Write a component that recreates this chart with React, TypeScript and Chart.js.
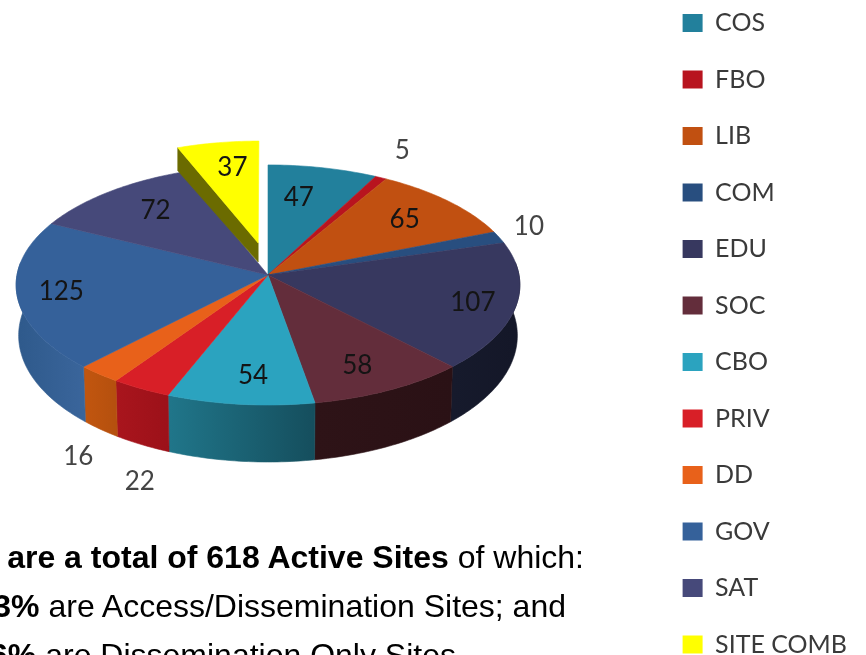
import React, { useEffect, useRef } from "react";
import { Chart, registerables } from "chart.js";

Chart.register(...registerables);

const categories = ["COS", "FBO", "LIB", "COM", "EDU", "SOC", "CBO", "PRIV", "DD", "GOV", "SAT", "SITE COMB"];
const siteCounts = [47, 5, 65, 10, 107, 58, 54, 22, 16, 125, 72, 37];
const topColors = ["#22809c", "#b8141f", "#c15011", "#284e7f", "#37385f", "#632d3b", "#2ba3bf", "#d81f27", "#e8611a", "#35619a", "#46497a", "#ffff00"];
const wallStart = ["#1a6478", "#8c0f18", "#8f3c0d", "#1e3b60", "#161a2c", "#2e1317", "#20768a", "#a9151d", "#c2560f", "#2f5a8c", "#33365a", "#6b6b00"];
const wallEnd = ["#164f60", "#700c12", "#6f2f0a", "#182f4d", "#141728", "#2a1115", "#154e5d", "#9c1119", "#b5500e", "#3a659b", "#33365a", "#6b6b00"];
// Where each value label sits: fraction of the radius, and a small turn (degrees) from the slice's middle.
const labelRadius = [0.7, 1.28, 0.742, 1.154, 0.833, 0.792, 0.793, 1.577, 1.512, 0.826, 0.732, 0.982];
const labelTurn = [-3, -1.6, 0.5, -2.3, 0.9, 1.8, -1.8, -11.5, -12.7, 0.2, 2.7, 1.8];
const outsideLabel = [false, true, false, true, false, false, false, true, true, false, false, false];
const explodedIndex = 11;

const CANVAS_TOP = -21;
const CX = 268;
const CY = 275 - CANVAS_TOP;
const RX = 251;
const RY = 119.2;
const PERSP = 0.083;
const DEPTH_MID = 50;
const DEPTH_NEAR = 57;

type Pt = { x: number; y: number };

function projectUV(u: number, v: number): Pt {
  const d = 1 + PERSP * v;
  return { x: CX + (RX * u) / d, y: CY - (RY * v) / d };
}
function rim(deg: number, r: number, eu = 0, ev = 0): Pt {
  const a = (deg * Math.PI) / 180;
  return projectUV(eu + r * Math.sin(a), ev + r * Math.cos(a));
}
function wallBottom(deg: number): Pt {
  const a = (deg * Math.PI) / 180;
  const p = rim(deg, 1);
  const c = Math.cos(a);
  const depth = DEPTH_MID + (DEPTH_NEAR - DEPTH_MID) * Math.max(0, -c) + 6 * Math.min(0, -c);
  return { x: CX + (p.x - CX) * 0.99, y: p.y + depth };
}

const pie3dPlugin = {
  id: "pie3d",
  beforeDatasetsDraw(chart: any) {
    const ctx: CanvasRenderingContext2D = chart.ctx;
    const arcs = chart.getDatasetMeta(0).data;
    const toDeg = (a: number) => ((a + Math.PI / 2) * 180) / Math.PI;
    const spans = arcs.map((el: any) => {
      const { startAngle, endAngle } = el.getProps(["startAngle", "endAngle"], true);
      return [toDeg(startAngle), toDeg(endAngle)];
    });

    const fillPts = (pts: Pt[], fill: any) => {
      ctx.beginPath();
      pts.forEach((p, i) => (i ? ctx.lineTo(p.x, p.y) : ctx.moveTo(p.x, p.y)));
      ctx.closePath();
      ctx.fillStyle = fill;
      ctx.strokeStyle = fill;
      ctx.lineWidth = 0.6;
      ctx.fill();
      ctx.stroke();
    };

    // Outer walls, visible on the near half
    spans.forEach(([s, e]: number[], i: number) => {
      if (i === explodedIndex) return;
      const from = Math.max(s, 84);
      const to = Math.min(e, 276);
      if (to <= from) return;
      const upper: Pt[] = [];
      const lower: Pt[] = [];
      for (let d = from; d < to; d += 1) {
        upper.push(rim(d, 1));
        lower.push(wallBottom(d));
      }
      upper.push(rim(to, 1));
      lower.push(wallBottom(to));
      const g = ctx.createLinearGradient(
        Math.min(upper[0].x, upper[upper.length - 1].x), 0,
        Math.max(upper[0].x, upper[upper.length - 1].x), 0
      );
      g.addColorStop(0, wallStart[i]);
      g.addColorStop(1, wallEnd[i]);
      fillPts([...upper, ...lower.reverse()], g);
    });

    // Top faces
    spans.forEach(([s, e]: number[], i: number) => {
      if (i === explodedIndex) return;
      const pts: Pt[] = [projectUV(0, 0)];
      for (let d = s; d < e; d += 1) pts.push(rim(d, 1));
      pts.push(rim(e, 1));
      fillPts(pts, topColors[i]);
    });

    // Pulled-out slice
    const [s, e] = spans[explodedIndex];
    const EU = -0.04;
    const EV = 0.274;
    const ER = 0.965;
    const apex = projectUV(EU, EV);
    const corner = rim(s, ER, EU, EV);
    fillPts(
      [apex, corner, { x: corner.x, y: corner.y + 23 }, { x: apex.x, y: apex.y + 19 }],
      wallStart[explodedIndex]
    );
    const pts: Pt[] = [apex];
    for (let d = s; d < e; d += 1) pts.push(rim(d, ER, EU, EV));
    pts.push(rim(e, ER, EU, EV));
    fillPts(pts, topColors[explodedIndex]);

    // Value labels
    ctx.font = "26px Lato";
    ctx.textAlign = "center";
    ctx.textBaseline = "middle";
    spans.forEach(([s0, e0]: number[], i: number) => {
      const p = rim((s0 + e0) / 2 + labelTurn[i], labelRadius[i]);
      ctx.fillStyle = outsideLabel[i] ? "#444444" : "#141414";
      ctx.fillText(String(siteCounts[i]), p.x, p.y);
    });
    return false;
  },
};

const lineStyle: React.CSSProperties = {
  position: "absolute",
  whiteSpace: "nowrap",
  fontFamily: "'Liberation Sans', Arial, sans-serif",
  fontSize: 32,
  lineHeight: "36px",
  color: "#000",
};

export default function App() {
  const ref = useRef<HTMLCanvasElement | null>(null);
  useEffect(() => {
    if (!ref.current) return;
    const chart = new Chart(ref.current, {
      type: "pie",
      data: {
        labels: categories,
        datasets: [{ data: siteCounts, backgroundColor: topColors, borderWidth: 0 }],
      },
      options: {
        animation: false,
        responsive: false,
        layout: { padding: { right: 63 } },
        plugins: {
          tooltip: { enabled: false },
          legend: {
            display: true,
            position: "right",
            align: "start",
            labels: {
              boxWidth: 20,
              boxHeight: 18,
              padding: 31.5,
              color: "#3a3a3a",
              font: { family: "Lato", size: 25 },
            },
          },
        },
      },
      plugins: [pie3dPlugin],
    } as any);
    return () => chart.destroy();
  }, []);
  return (
    <div style={{ position: "fixed", left: 0, top: 0, width: 866, height: 655, overflow: "hidden", background: "#fff" }}>
      <canvas
        ref={ref}
        width={920}
        height={720}
        style={{ position: "absolute", left: 0, top: CANVAS_TOP, filter: "blur(0.6px)" }}
      />
      <div style={{ ...lineStyle, top: 539, right: 282 }}>
        <b>There are a total of 618 Active Sites</b> of which:
      </div>
      <div style={{ ...lineStyle, top: 588, right: 300 }}>
        <b>83%</b> are Access/Dissemination Sites; and
      </div>
      <div style={{ ...lineStyle, top: 637, right: 410 }}>
        <b>16%</b> are Dissemination Only Sites
      </div>
    </div>
  );
}
